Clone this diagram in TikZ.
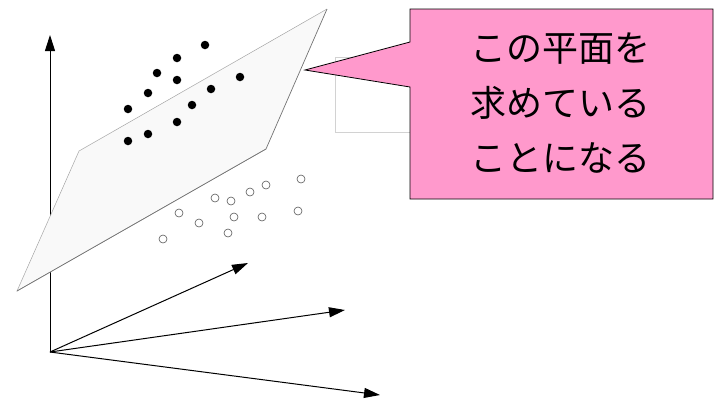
\documentclass[tikz,border=0pt]{standalone}
\usepackage{fontspec}
\newfontfamily\jpfont{Noto Sans CJK JP}
\usetikzlibrary{arrows.meta}
\definecolor{calloutpink}{RGB}{255,153,204}
\definecolor{planefill}{RGB}{249,249,249}
\begin{document}
\begin{tikzpicture}[x=1pt,y=-1pt,
  axis/.style={line width=1pt,-{Triangle[length=16pt,width=10pt]}},
  blackdot/.style={circle,fill=black,inner sep=0pt,minimum size=8.5pt},
  whitedot/.style={circle,draw=gray!70!black,fill=white,line width=0.6pt,inner sep=0pt,minimum size=8pt},
  callout/.style={fill=calloutpink,draw=black,line width=0.8pt}]
\useasboundingbox (0,0) rectangle (717,400);
% faint box behind callout
\draw[draw=gray!35,fill=white,line width=0.6pt] (335,57) rectangle (415,132);
% axes
\coordinate (O) at (50,352);
\coordinate (zt) at (50,35);
\coordinate (a1) at (248,263);
\coordinate (a2) at (345,310);
\coordinate (a3) at (380,395);
\draw[axis] (O) -- (zt);
\draw[axis] (O) -- (a1);
\draw[axis] (O) -- (a2);
\draw[axis] (O) -- (a3);
% plane
\coordinate (p1) at (17,291);
\coordinate (p2) at (79,151);
\coordinate (p3) at (327,9);
\coordinate (p4) at (266,149);
\fill[planefill] (p1) -- (p2) -- (p3) -- (p4) -- cycle;
\draw[gray!70,line width=0.5pt] (p4) -- (p1) -- (p2) -- (p3);
\draw[gray!90!black,line width=0.7pt] (p3) -- (p4) -- (p1);
% black dots
\foreach \x/\y [count=\i] in {205/45,177/58,157/73,177/80,148/93,240/77,211/89,128/109,192/105,177/122,148/134,128/141}
  \node[blackdot] (b\i) at (\x,\y) {};
% white dots
\foreach \x/\y [count=\i] in {301/179,266/185,250/192,215/198,231/201,179/213,298/211,199/223,234/217,262/217,228/233,163/239}
  \node[whitedot] (w\i) at (\x,\y) {};
% callout
\coordinate (tip) at (305,70);
\draw[callout] (410,9) -- (713,9) -- (713,199) -- (410,199) -- (410,87) -- (tip) -- (410,42) -- cycle;
\node[font=\jpfont\fontsize{36}{55}\selectfont,align=center,anchor=center] (txt) at (560,103) {この平面を\\求めている\\ことになる};
\end{tikzpicture}
\end{document}
